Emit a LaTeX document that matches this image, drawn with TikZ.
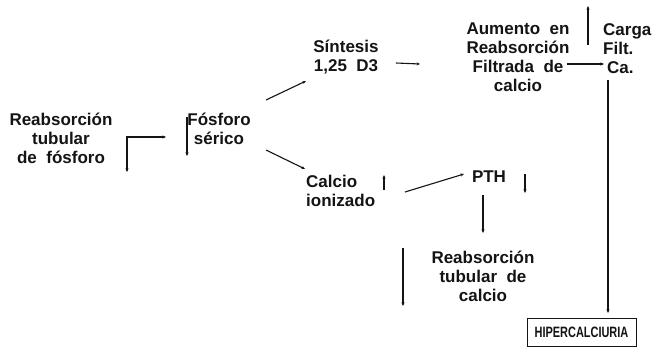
\documentclass[tikz,border=0pt]{standalone}
\usepackage{fontspec}
\setmainfont{Liberation Sans}
\usetikzlibrary{arrows.meta,calc}
\definecolor{ink}{HTML}{141414}
\begin{document}
\begin{tikzpicture}[x=1pt,y=-1pt,
  lbl/.style={font=\fontsize{17}{19}\selectfont\bfseries, align=center, inner sep=0pt, text=ink},
  arr/.style={draw=ink, line width=1.1pt, -{Stealth[length=3.5pt,width=3pt]}},
  barr/.style={draw=ink, line width=1.1pt, {Stealth[length=3.5pt,width=3pt]}-{Stealth[length=3.5pt,width=3pt]}},
  ln/.style={draw=ink, line width=1.1pt}]
\useasboundingbox[fill=white] (0,0) rectangle (660,361);

% texts
\node[lbl] (rtf) at (61,138) {Reabsorción\\tubular\\de~~fósforo};
\node[lbl] (fs) at (219,129) {Fósforo\\sérico};
\node[lbl] (sin) at (346,57) {Síntesis\\1,25~~D3};
\node[lbl] (aum) at (518,57) {Aumento~~en\\Reabsorción\\Filtrada~~de\\calcio};
\node[lbl, align=left, anchor=west] (car) at (603,49) {Carga\\Filt.\\\hspace*{4pt}Ca.};
\node[lbl, align=left, anchor=west] (cal) at (306,191) {Calcio\\ionizado};
\node[lbl] (pth) at (489,177) {PTH};
\node[lbl] (rtc) at (483,276) {Reabsorción\\tubular~~de\\calcio};
\node[draw=ink, line width=0.9pt, minimum width=109pt, minimum height=28pt, inner sep=0pt,
      font=\fontsize{15}{17}\selectfont\bfseries, text=ink] (hip) at (581.5,332)
      {\scalebox{0.73}[1]{HIPERCALCIURIA}};

% coordinates
\coordinate (l1) at (127,172);
\coordinate (l2) at (127,137);
\coordinate (l3) at (166,137);
\coordinate (f1) at (187,117);
\coordinate (f2) at (187,156);
\coordinate (s1) at (266,100);
\coordinate (s2) at (306,81);
\coordinate (c1) at (266,150);
\coordinate (c2) at (305,169);
\coordinate (u1) at (384,190);
\coordinate (u2) at (384,175);
\coordinate (p1) at (405,192);
\coordinate (p2) at (464,174);
\coordinate (q1) at (525,174);
\coordinate (q2) at (525,193);
\coordinate (d1) at (483,195);
\coordinate (d2) at (483,233);
\coordinate (r1) at (403,248);
\coordinate (r2) at (403,306);
\coordinate (a1) at (396,63);
\coordinate (a2) at (420,64);
\coordinate (b1) at (567,64);
\coordinate (b2) at (604,64);
\coordinate (k1) at (588,45);
\coordinate (k2) at (588,6);
\coordinate (h1) at (608,80);
\coordinate (h2) at (608,313);

% connectors
\draw[barr] (l1) -- (l2) -- (l3);
\draw[arr] (f1) -- (f2);
\draw[arr] (s1) -- (s2);
\draw[arr] (c1) -- (c2);
\draw[arr] (u1) -- (u2);
\draw[arr] (p1) -- (p2);
\draw[arr] (q1) -- (q2);
\draw[arr] (d1) -- (d2);
\draw[arr] (r1) -- (r2);
\draw[arr] (a1) -- (a2);
\draw[arr] (b1) -- (b2);
\draw[arr] (k1) -- (k2);
\draw[arr] (h1) -- (h2);
\end{tikzpicture}
\end{document}
